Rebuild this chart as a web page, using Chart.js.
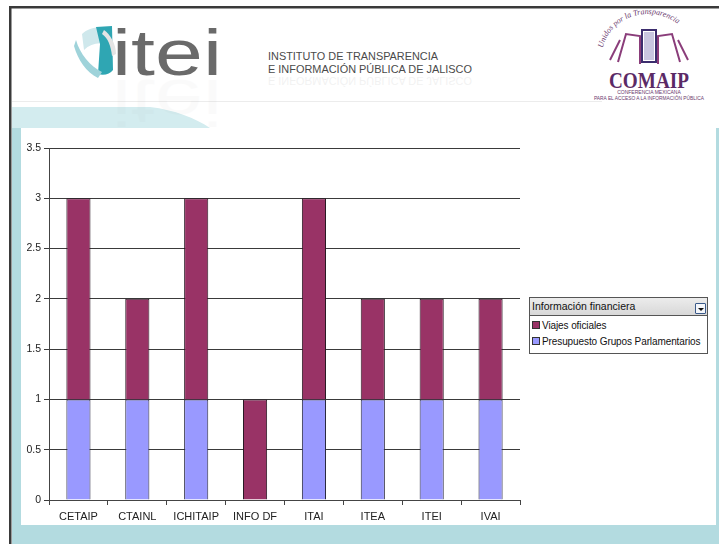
<!DOCTYPE html>
<html>
<head>
<meta charset="utf-8">
<script src="https://cdn.jsdelivr.net/npm/chart.js@4/dist/chart.umd.min.js"></script>
<style>
  html,body{margin:0;padding:0;width:719px;height:544px;overflow:hidden;background:#fff;font-family:"Liberation Sans",Arial,sans-serif;}
  #bg{position:absolute;left:0;top:0;}
  #wrap{position:absolute;left:0;top:0;width:719px;height:544px;}
  #legend{position:absolute;left:529px;top:297px;width:179px;font-family:"Liberation Sans",Arial,sans-serif;font-size:10px;color:#111;}
  #legend .head{height:19px;border:1px solid #555;background:linear-gradient(#ececec,#d8d8d8);box-sizing:border-box;position:relative;line-height:17px;padding-left:2px;font-size:10.5px;}
  #legend .btn{position:absolute;right:1px;top:5px;width:11px;height:11px;border:1px solid #3a5a8a;background:#f4f6fa;box-sizing:border-box;border-radius:1px;}
  #legend .btn:after{content:"";position:absolute;left:2px;top:4px;border-left:3px solid transparent;border-right:3px solid transparent;border-top:3px solid #111;}
  #legend .items{border:1px solid #555;border-top:none;background:#fff;padding:2px 0 3px 2px;}
  #legend .it{height:16px;line-height:16px;white-space:nowrap;letter-spacing:-0.1px;}
  #legend .sw{display:inline-block;width:6px;height:6px;border:1px solid #333;margin-right:2px;vertical-align:0px;}
</style>
</head>
<body>
<svg id="bg" width="719" height="544" xmlns="http://www.w3.org/2000/svg">
  <rect x="0" y="0" width="719" height="544" fill="#ffffff"/>
  <!-- slide frame -->
  <rect x="9" y="6" width="710" height="2.5" fill="#3a3a3a"/>
  <rect x="9" y="6" width="2.5" height="538" fill="#3a3a3a"/>
  <!-- light blue decorations -->
  <path d="M12,107 L150,107 C175,110 195,118 210,128 L12,128 Z" fill="#d3ecef"/>
  <rect x="12" y="128" width="9" height="416" fill="#b3dbe0"/>
  <rect x="12" y="525" width="707" height="19" fill="#b3dbe0"/>
  <rect x="716" y="128" width="3" height="416" fill="#b3dbe0"/>
  <rect x="21" y="128" width="695" height="397" fill="#ffffff"/>
  <!-- faint header rule -->
  <rect x="12" y="101" width="590" height="1" fill="#ececec"/>
  <!-- itei logo swirl -->
  <path d="M82,34 C88,28 98,26 106,28 L106,44 C98,42 90,44 84,50 Z" fill="#cfe8ec"/>
  <path d="M96,27 L112,26 L113,70 C110,74 104,76 98,74 L100,44 Z" fill="#2fa6b3"/>
  <path d="M76,40 C80,54 90,66 102,72 L98,78 C86,72 78,60 74,46 Z" fill="#9fd3da"/>
  <path d="M104,30 C110,34 116,44 116,54 L112,56 C111,46 108,38 102,34 Z" fill="#e4e4e4"/>
  <text x="112" y="75" font-family="Liberation Sans, Arial, sans-serif" font-size="64" fill="#6a6a6a" textLength="110" lengthAdjust="spacingAndGlyphs">itei</text>
  <text x="112" y="80" font-family="Liberation Sans, Arial, sans-serif" font-size="64" fill="#6a6a6a" opacity="0.025" transform="translate(0,160) scale(1,-1)" textLength="110" lengthAdjust="spacingAndGlyphs">itei</text>
  <!-- institute name -->
  <text x="268" y="60" font-family="Liberation Sans, Arial, sans-serif" font-size="11.5" fill="#4a4a4a" textLength="170" lengthAdjust="spacingAndGlyphs">INSTITUTO DE TRANSPARENCIA</text>
  <text x="268" y="73" font-family="Liberation Sans, Arial, sans-serif" font-size="11.5" fill="#4a4a4a" textLength="204" lengthAdjust="spacingAndGlyphs">E INFORMACIÓN PÚBLICA DE JALISCO</text>
  <text x="268" y="-77" font-family="Liberation Sans, Arial, sans-serif" font-size="11.5" fill="#4a4a4a" opacity="0.07" transform="scale(1,-1)" textLength="204" lengthAdjust="spacingAndGlyphs">E INFORMACIÓN PÚBLICA DE JALISCO</text>
  <!-- COMAIP logo -->
  <defs><path id="arc" d="M602,56 A46,42 0 0 1 694,56"/></defs>
  <text font-family="Liberation Serif, serif" font-style="italic" font-size="8" fill="#6b3a6e"><textPath href="#arc" startOffset="8">Unidos por la Transparencia</textPath></text>
  <path d="M618,62 L626,34 L640,36 L640,64" fill="none" stroke="#8a3d7a" stroke-width="2"/>
  <path d="M610,60 L620,40" fill="none" stroke="#8a3d7a" stroke-width="2"/>
  <path d="M680,62 L672,34 L658,36 L658,64" fill="none" stroke="#8a3d7a" stroke-width="2"/>
  <path d="M688,60 L678,40" fill="none" stroke="#8a3d7a" stroke-width="2"/>
  <rect x="642" y="30" width="14" height="32" fill="none" stroke="#3c2d6e" stroke-width="2"/>
  <rect x="644" y="32" width="10" height="28" fill="#c9c6e0"/>
  <text x="649" y="88" text-anchor="middle" font-family="Liberation Serif, serif" font-weight="bold" font-size="23" fill="#5b2a66" textLength="80" lengthAdjust="spacingAndGlyphs">COMAIP</text>
  <text x="649" y="94" text-anchor="middle" font-family="Liberation Sans, Arial, sans-serif" font-size="5" fill="#6b3a6e">CONFERENCIA MEXICANA</text>
  <text x="649" y="100" text-anchor="middle" font-family="Liberation Sans, Arial, sans-serif" font-size="5" fill="#6b3a6e" textLength="110" lengthAdjust="spacingAndGlyphs">PARA EL ACCESO A LA INFORMACIÓN PÚBLICA</text>
</svg>
<div id="wrap"><canvas id="c" width="719" height="544"></canvas></div>
<div id="legend">
  <div class="head">Información financiera<span class="btn"></span></div>
  <div class="items" id="items"></div>
</div>
<script>
const categories = ["CETAIP","CTAINL","ICHITAIP","INFO DF","ITAI","ITEA","ITEI","IVAI"];
const presupuestoGrupos = [1,1,1,0,1,1,1,1];
const viajesOficiales = [2,1,2,1,2,1,1,1];
const seriesNames = ["Presupuesto Grupos Parlamentarios","Viajes oficiales"];
const legendTitle = "Información financiera";
const yTicks = [0,0.5,1,1.5,2,2.5,3,3.5];

const colors = ["#9999FF","#993366"];

Chart.defaults.font.family = '"Liberation Sans", Arial, sans-serif';
Chart.defaults.font.size = 11;
Chart.defaults.color = "#222";

new Chart(document.getElementById("c"), {
  type: "bar",
  data: {
    labels: categories,
    datasets: [
      {label: seriesNames[0], data: presupuestoGrupos, backgroundColor: colors[0], borderColor: "#2a2a40", borderWidth: 1, barPercentage: 0.41, categoryPercentage: 1},
      {label: seriesNames[1], data: viajesOficiales, backgroundColor: colors[1], borderColor: "#2a1a24", borderWidth: 1, barPercentage: 0.41, categoryPercentage: 1}
    ]
  },
  options: {
    responsive: false,
    animation: false,
    layout: {padding: {left: 0, top: 148, right: 199, bottom: 0}},
    plugins: {legend: {display: false}, tooltip: {enabled: false}},
    scales: {
      x: {
        stacked: true,
        grid: {offset: true, drawOnChartArea: false, drawTicks: true, tickLength: 5, color: "#444"},
        border: {display: true, color: "#444", width: 1},
        ticks: {padding: 5, color: "#222", font: {size: 11}},
        afterFit: s => { s.height = 44; }
      },
      y: {
        stacked: true,
        min: 0, max: 3.5,
        afterBuildTicks: s => { s.ticks = yTicks.map(v => ({value: v})); },
        grid: {color: "#3a3a3a", lineWidth: 1, tickLength: 5, drawTicks: true},
        border: {display: true, color: "#444", width: 1},
        ticks: {padding: 3, color: "#222", font: {size: 10.5}, callback: v => String(v)},
        afterFit: s => { s.width = 49; }
      }
    }
  }
});

// legend entries (Viajes first, as in the reference)
const items = document.getElementById("items");
[[seriesNames[1], colors[1]], [seriesNames[0], colors[0]]].forEach(([name, col]) => {
  const d = document.createElement("div");
  d.className = "it";
  d.innerHTML = '<span class="sw" style="background:' + col + '"></span>' + name;
  items.appendChild(d);
});
document.querySelector("#legend .head").firstChild.textContent = legendTitle;
</script>
</body>
</html>
